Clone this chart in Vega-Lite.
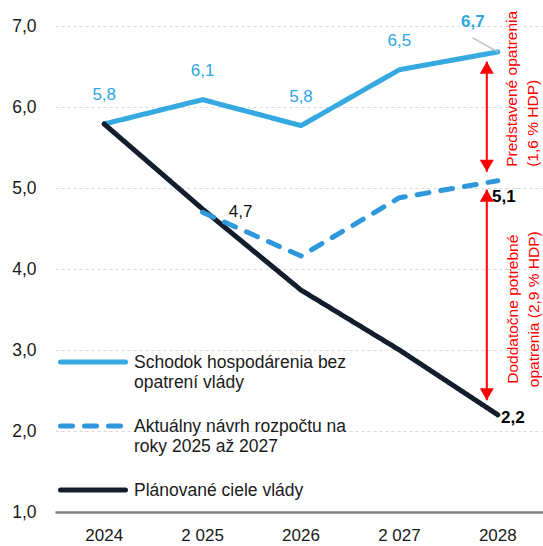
{
  "$schema": "https://vega.github.io/schema/vega-lite/v6.json",
  "width": 492,
  "height": 486,
  "autosize": {"type": "none"},
  "padding": {"left": 55, "top": 26, "right": 0, "bottom": 34},
  "config": {
    "locale": {"number": {"decimal": ",", "thousands": " ", "grouping": [3], "currency": ["", " €"]}},
    "view": {"stroke": null},
    "font": "Liberation Sans",
    "text": {"font": "Liberation Sans"}
  },
  "data": {
    "values": [
      {"rok": "2024", "seria": "Schodok hospodárenia bez opatrení vlády", "hodnota": 5.79},
      {"rok": "2 025", "seria": "Schodok hospodárenia bez opatrení vlády", "hodnota": 6.09},
      {"rok": "2026", "seria": "Schodok hospodárenia bez opatrení vlády", "hodnota": 5.77},
      {"rok": "2 027", "seria": "Schodok hospodárenia bez opatrení vlády", "hodnota": 6.46},
      {"rok": "2028", "seria": "Schodok hospodárenia bez opatrení vlády", "hodnota": 6.68},
      {"rok": "2024", "seria": "Plánované ciele vlády", "hodnota": 5.79},
      {"rok": "2 025", "seria": "Plánované ciele vlády", "hodnota": 4.74},
      {"rok": "2026", "seria": "Plánované ciele vlády", "hodnota": 3.74},
      {"rok": "2 027", "seria": "Plánované ciele vlády", "hodnota": 3.0},
      {"rok": "2028", "seria": "Plánované ciele vlády", "hodnota": 2.2},
      {"rok": "2 025", "seria": "Aktuálny návrh rozpočtu na roky 2025 až 2027", "hodnota": 4.7},
      {"rok": "2026", "seria": "Aktuálny návrh rozpočtu na roky 2025 až 2027", "hodnota": 4.16},
      {"rok": "2 027", "seria": "Aktuálny návrh rozpočtu na roky 2025 až 2027", "hodnota": 4.88},
      {"rok": "2028", "seria": "Aktuálny návrh rozpočtu na roky 2025 až 2027", "hodnota": 5.09}
    ]
  },
  "encoding": {
    "x": {
      "field": "rok",
      "type": "nominal",
      "sort": null,
      "scale": {"domain": ["2024", "2 025", "2026", "2 027", "2028"]},
      "axis": {
        "title": null,
        "labelAngle": 0,
        "ticks": false,
        "tickSize": 0,
        "grid": false,
        "domainColor": "#808080",
        "domainWidth": 2.5,
        "labelFontSize": 17,
        "labelColor": "#1a1a1a",
        "labelPadding": 15
      }
    }
  },
  "layer": [
    {
      "mark": {"type": "line", "strokeWidth": 5, "strokeCap": "round", "strokeJoin": "round"},
      "encoding": {
        "y": {
          "field": "hodnota",
          "type": "quantitative",
          "scale": {"domain": [1, 7], "nice": false, "zero": false},
          "axis": {
            "title": null,
            "values": [1, 2, 3, 4, 5, 6, 7],
            "format": ".1f",
            "domain": false,
            "ticks": false,
            "tickSize": 0,
            "labelPadding": 19,
            "labelFontSize": 17.5,
            "labelColor": "#1a1a1a",
            "gridColor": "#d9d9d9",
            "gridDash": [3, 3],
            "gridWidth": 1
          }
        },
        "color": {
          "field": "seria",
          "type": "nominal",
          "scale": {
            "domain": ["Schodok hospodárenia bez opatrení vlády", "Aktuálny návrh rozpočtu na roky 2025 až 2027", "Plánované ciele vlády"],
            "range": ["#36a9e1", "#2f98dc", "#141d2c"]
          },
          "legend": {
            "title": null,
            "orient": "none",
            "legendX": 3,
            "legendY": 301,
            "padding": 0,
            "symbolType": "stroke",
            "symbolSize": 4225,
            "symbolStrokeWidth": 5,
            "labelFontSize": 17.5,
            "labelColor": "#1a1a1a",
            "labelLimit": 0,
            "labelOffset": 6,
            "labelBaseline": "top",
            "labelLineHeight": 22,
            "rowPadding": -13,
            "labelExpr": "datum.label == 'Schodok hospodárenia bez opatrení vlády' ? ['Schodok hospodárenia bez', 'opatrení vlády'] : datum.label == 'Aktuálny návrh rozpočtu na roky 2025 až 2027' ? ['Aktuálny návrh rozpočtu na', 'roky 2025 až 2027'] : datum.label",
            "encode": {
              "labels": {"update": {"dy": {"value": -8}}},
              "symbols": {"update": {"strokeCap": {"value": "round"}}}
            }
          }
        },
        "strokeDash": {
          "field": "seria",
          "type": "nominal",
          "scale": {
            "domain": ["Schodok hospodárenia bez opatrení vlády", "Aktuálny návrh rozpočtu na roky 2025 až 2027", "Plánované ciele vlády"],
            "range": [[1, 0], [12, 12], [1, 0]]
          },
          "legend": {
            "title": null,
            "orient": "none",
            "legendX": 3,
            "legendY": 301,
            "padding": 0,
            "symbolType": "stroke",
            "symbolSize": 4225,
            "symbolStrokeWidth": 5,
            "labelFontSize": 17.5,
            "labelColor": "#1a1a1a",
            "labelLimit": 0,
            "labelOffset": 6,
            "labelBaseline": "top",
            "labelLineHeight": 22,
            "rowPadding": -13,
            "labelExpr": "datum.label == 'Schodok hospodárenia bez opatrení vlády' ? ['Schodok hospodárenia bez', 'opatrení vlády'] : datum.label == 'Aktuálny návrh rozpočtu na roky 2025 až 2027' ? ['Aktuálny návrh rozpočtu na', 'roky 2025 až 2027'] : datum.label",
            "encode": {
              "labels": {"update": {"dy": {"value": -8}}},
              "symbols": {"update": {"strokeCap": {"value": "round"}}}
            }
          }
        }
      }
    },
    {
      "transform": [{"filter": "datum.seria == 'Schodok hospodárenia bez opatrení vlády' && datum.rok != '2028'"}],
      "mark": {"type": "text", "dy": -29, "fontSize": 17, "color": "#2ea6de"},
      "encoding": {
        "y": {"field": "hodnota", "type": "quantitative"},
        "text": {"field": "hodnota", "type": "quantitative", "format": ".1f"}
      }
    },
    {
      "transform": [{"filter": "datum.seria == 'Schodok hospodárenia bez opatrení vlády' && datum.rok == '2028'"}],
      "mark": {"type": "rule", "color": "#bfbfbf", "strokeWidth": 1.5, "x2Offset": -25, "y2Offset": -14},
      "encoding": {
        "y": {"field": "hodnota", "type": "quantitative"},
        "x2": {"field": "rok"},
        "y2": {"field": "hodnota"}
      }
    },
    {
      "transform": [{"filter": "datum.seria == 'Schodok hospodárenia bez opatrení vlády' && datum.rok == '2028'"}],
      "mark": {"type": "text", "dx": -25, "dy": -30, "fontSize": 17, "fontWeight": "bold", "color": "#2ea6de"},
      "encoding": {
        "y": {"field": "hodnota", "type": "quantitative"},
        "text": {"field": "hodnota", "type": "quantitative", "format": ".1f"}
      }
    },
    {
      "transform": [{"filter": "datum.seria == 'Aktuálny návrh rozpočtu na roky 2025 až 2027' && datum.rok == '2 025'"}],
      "mark": {"type": "text", "dx": 38, "dy": 0, "fontSize": 17, "color": "#111111"},
      "encoding": {
        "y": {"field": "hodnota", "type": "quantitative"},
        "text": {"field": "hodnota", "type": "quantitative", "format": ".1f"}
      }
    },
    {
      "transform": [{"filter": "datum.seria == 'Aktuálny návrh rozpočtu na roky 2025 až 2027' && datum.rok == '2028'"}],
      "mark": {"type": "text", "dx": 6, "dy": 16, "fontSize": 17, "fontWeight": "bold", "color": "#000000"},
      "encoding": {
        "y": {"field": "hodnota", "type": "quantitative"},
        "text": {"field": "hodnota", "type": "quantitative", "format": ".1f"}
      }
    },
    {
      "transform": [{"filter": "datum.seria == 'Plánované ciele vlády' && datum.rok == '2028'"}],
      "mark": {"type": "text", "dx": 15, "dy": 3, "fontSize": 17, "fontWeight": "bold", "color": "#000000"},
      "encoding": {
        "y": {"field": "hodnota", "type": "quantitative"},
        "text": {"field": "hodnota", "type": "quantitative", "format": ".1f"}
      }
    },
    {
      "data": {
        "values": [
          {"rok": "2028", "id": "hore", "zaciatok": 6.56, "koniec": 5.2, "popis": ["Predstavené opatrenia", "(1,6 % HDP)"]},
          {"rok": "2028", "id": "dole", "zaciatok": 4.98, "koniec": 2.38, "popis": ["Doddatočne  potrebné", "opatrenia  (2,9 % HDP)"]}
        ]
      },
      "layer": [
        {
          "mark": {"type": "rule", "color": "#ff0000", "strokeWidth": 2, "xOffset": -11},
          "encoding": {
            "y": {"field": "zaciatok", "type": "quantitative"},
            "y2": {"field": "koniec"}
          }
        },
        {
          "mark": {"type": "point", "shape": "triangle-up", "size": 196, "filled": true, "opacity": 1, "color": "#ff0000", "xOffset": -11, "yOffset": 6},
          "encoding": {
            "y": {"field": "zaciatok", "type": "quantitative"}
          }
        },
        {
          "mark": {"type": "point", "shape": "triangle-down", "size": 196, "filled": true, "opacity": 1, "color": "#ff0000", "xOffset": -11, "yOffset": -6},
          "encoding": {
            "y": {"field": "koniec", "type": "quantitative"}
          }
        },
        {
          "transform": [{"filter": "datum.id == 'hore'"}],
          "mark": {"type": "text", "angle": 270, "align": "left", "baseline": "alphabetic", "fontSize": 15.5, "lineHeight": 21, "color": "#ff0000", "xOffset": 19, "yOffset": -5},
          "encoding": {
            "y": {"field": "koniec", "type": "quantitative"},
            "text": {"field": "popis"}
          }
        },
        {
          "transform": [{"filter": "datum.id == 'dole'"}],
          "mark": {"type": "text", "angle": 270, "align": "center", "baseline": "alphabetic", "fontSize": 15.5, "lineHeight": 21, "color": "#ff0000", "xOffset": 20, "yOffset": -91},
          "encoding": {
            "y": {"field": "koniec", "type": "quantitative"},
            "text": {"field": "popis"}
          }
        }
      ]
    }
  ]
}
